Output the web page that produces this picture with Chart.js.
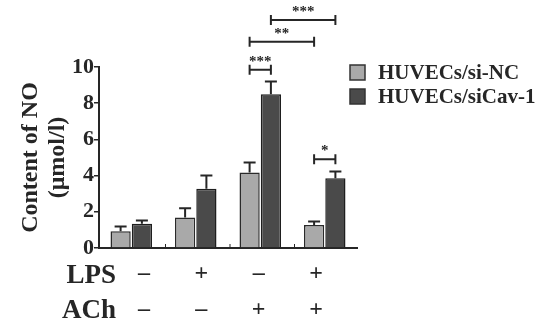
<!DOCTYPE html>
<html lang="en">
<head>
    <meta charset="UTF-8">
    <title>Content of NO</title>
    <script src="https://cdn.jsdelivr.net/npm/chart.js@4.4.1/dist/chart.umd.min.js"></script>
    <style>
        body { margin: 0; background: #fff; }
        #wrap { width: 552px; height: 323px; }
    </style>
</head>
<body>
    <div id="wrap"><canvas id="noChart" width="552" height="323"></canvas></div>
    <script>
        // groups along x (LPS / ACh treatment)
        const groups = ['g1', 'g2', 'g3', 'g4'];
        const lpsRow = ['\u2013', '+', '\u2013', '+'];
        const achRow = ['\u2013', '\u2013', '+', '+'];
        const seriesNames = ['HUVECs/si-NC', 'HUVECs/siCav-1'];
        const siNC = [0.92, 1.69, 4.17, 1.27];
        const siNCErr = [0.27, 0.51, 0.56, 0.20];
        const siCav = [1.34, 3.28, 8.50, 3.85];
        const siCavErr = [0.18, 0.72, 0.70, 0.37];
        const yTicks = [0, 2, 4, 6, 8, 10];
        // significance brackets: [dataset, index] -> [dataset, index], height in data units
        const sigFrom = [[0, 2], [0, 2], [1, 2], [0, 3]];
        const sigTo = [[1, 2], [0, 3], [1, 3], [1, 3]];
        const sigLevel = [9.85, 11.4, 12.6, 4.9];
        const sigText = ['***', '**', '***', '*'];

        const serif = '"Liberation Serif", "Times New Roman", serif';
        const ink = '#262626';

        const extras = {
            id: 'extras',
            afterDatasetsDraw(chart) {
                const ctx = chart.ctx;
                const y = chart.scales.y;
                const x = chart.scales.x;
                const errs = [siNCErr, siCavErr];
                ctx.save();
                ctx.strokeStyle = ink;
                ctx.lineWidth = 2;
                // error bars (upper only)
                chart.data.datasets.forEach((ds, di) => {
                    chart.getDatasetMeta(di).data.forEach((bar, i) => {
                        const top = y.getPixelForValue(ds.data[i] + errs[di][i]);
                        ctx.beginPath();
                        ctx.moveTo(bar.x, bar.y);
                        ctx.lineTo(bar.x, top);
                        ctx.moveTo(bar.x - 6, top);
                        ctx.lineTo(bar.x + 6, top);
                        ctx.stroke();
                    });
                });
                // small ticks between groups
                ctx.lineWidth = 1;
                for (let i = 1; i < groups.length; i++) {
                    const px = (x.getPixelForValue(i - 1) + x.getPixelForValue(i)) / 2 + 2;
                    ctx.beginPath();
                    ctx.moveTo(px, y.bottom);
                    ctx.lineTo(px, y.bottom - 4);
                    ctx.stroke();
                }
                // significance brackets
                ctx.lineWidth = 2;
                ctx.fillStyle = ink;
                ctx.textAlign = 'center';
                ctx.textBaseline = 'middle';
                ctx.font = 'bold 15px ' + serif;
                sigText.forEach((t, k) => {
                    const a = chart.getDatasetMeta(sigFrom[k][0]).data[sigFrom[k][1]].x;
                    const b = chart.getDatasetMeta(sigTo[k][0]).data[sigTo[k][1]].x;
                    const py = y.getPixelForValue(sigLevel[k]);
                    ctx.beginPath();
                    ctx.moveTo(a, py); ctx.lineTo(b, py);
                    ctx.moveTo(a, py - 5); ctx.lineTo(a, py + 5);
                    ctx.moveTo(b, py - 5); ctx.lineTo(b, py + 5);
                    ctx.stroke();
                    ctx.fillText(t, (a + b) / 2, py - 8);
                });
                // treatment rows
                const mid = (x.getPixelForValue(0) + x.getPixelForValue(groups.length - 1)) / 2;
                ctx.font = 'bold 27px ' + serif;
                ctx.textAlign = 'right';
                ctx.fillText('LPS', 116, 276);
                ctx.fillText('ACh', 116, 311);
                ctx.font = 'bold 24px ' + serif;
                ctx.textAlign = 'center';
                groups.forEach((g, i) => {
                    const cx = mid + (x.getPixelForValue(i) - mid) * 0.89 + 2;
                    ctx.fillText(lpsRow[i], cx, 274);
                    ctx.fillText(achRow[i], cx, 310);
                });
                // legend
                ctx.font = 'bold 21px ' + serif;
                ctx.textAlign = 'left';
                chart.data.datasets.forEach((ds, di) => {
                    const ly = 73 + di * 24;
                    ctx.fillStyle = ds.backgroundColor;
                    ctx.strokeStyle = '#333';
                    ctx.lineWidth = 1.5;
                    ctx.fillRect(350, ly - 8, 15, 15);
                    ctx.strokeRect(350, ly - 8, 15, 15);
                    ctx.fillStyle = ink;
                    ctx.fillText(ds.label, 378, ly + 1);
                });
                ctx.restore();
            }
        };

        new Chart(document.getElementById('noChart'), {
            type: 'bar',
            data: {
                labels: groups,
                datasets: [
                    { label: seriesNames[0], data: siNC, backgroundColor: '#a9a9a9', borderColor: '#2a2a2a', borderWidth: 1.5 },
                    { label: seriesNames[1], data: siCav, backgroundColor: '#4a4a4a', borderColor: '#1e1e1e', borderWidth: 1.5 }
                ],
            },
            options: {
                responsive: false,
                animation: false,
                layout: { padding: { top: 67, right: 195, bottom: 75, left: 0 } },
                datasets: { bar: { categoryPercentage: 0.66, barPercentage: 0.95 } },
                plugins: { legend: { display: false }, tooltip: { enabled: false } },
                scales: {
                    x: {
                        grid: { display: false, drawTicks: false },
                        border: { color: ink, width: 2 },
                        ticks: { display: false },
                        afterFit(scale) { scale.height = 0; }
                    },
                    y: {
                        min: 0,
                        max: 10,
                        afterBuildTicks(scale) { scale.ticks = yTicks.map(v => ({ value: v })); },
                        afterFit(scale) { scale.width = 99; },
                        grid: { drawOnChartArea: false, color: ink, lineWidth: 1.5, tickLength: 5 },
                        border: { color: ink, width: 2 },
                        ticks: { padding: 0, color: ink, font: { family: serif, size: 22, weight: 'bold' } },
                        title: {
                            display: true,
                            text: ['Content of NO', '(\u03bcmol/l)'],
                            color: ink,
                            padding: { top: 17, bottom: 0 },
                            font: { family: serif, size: 24, weight: 'bold', lineHeight: 1.12 }
                        }
                    }
                }
            },
            plugins: [extras]
        });
    </script>
</body>
</html>
